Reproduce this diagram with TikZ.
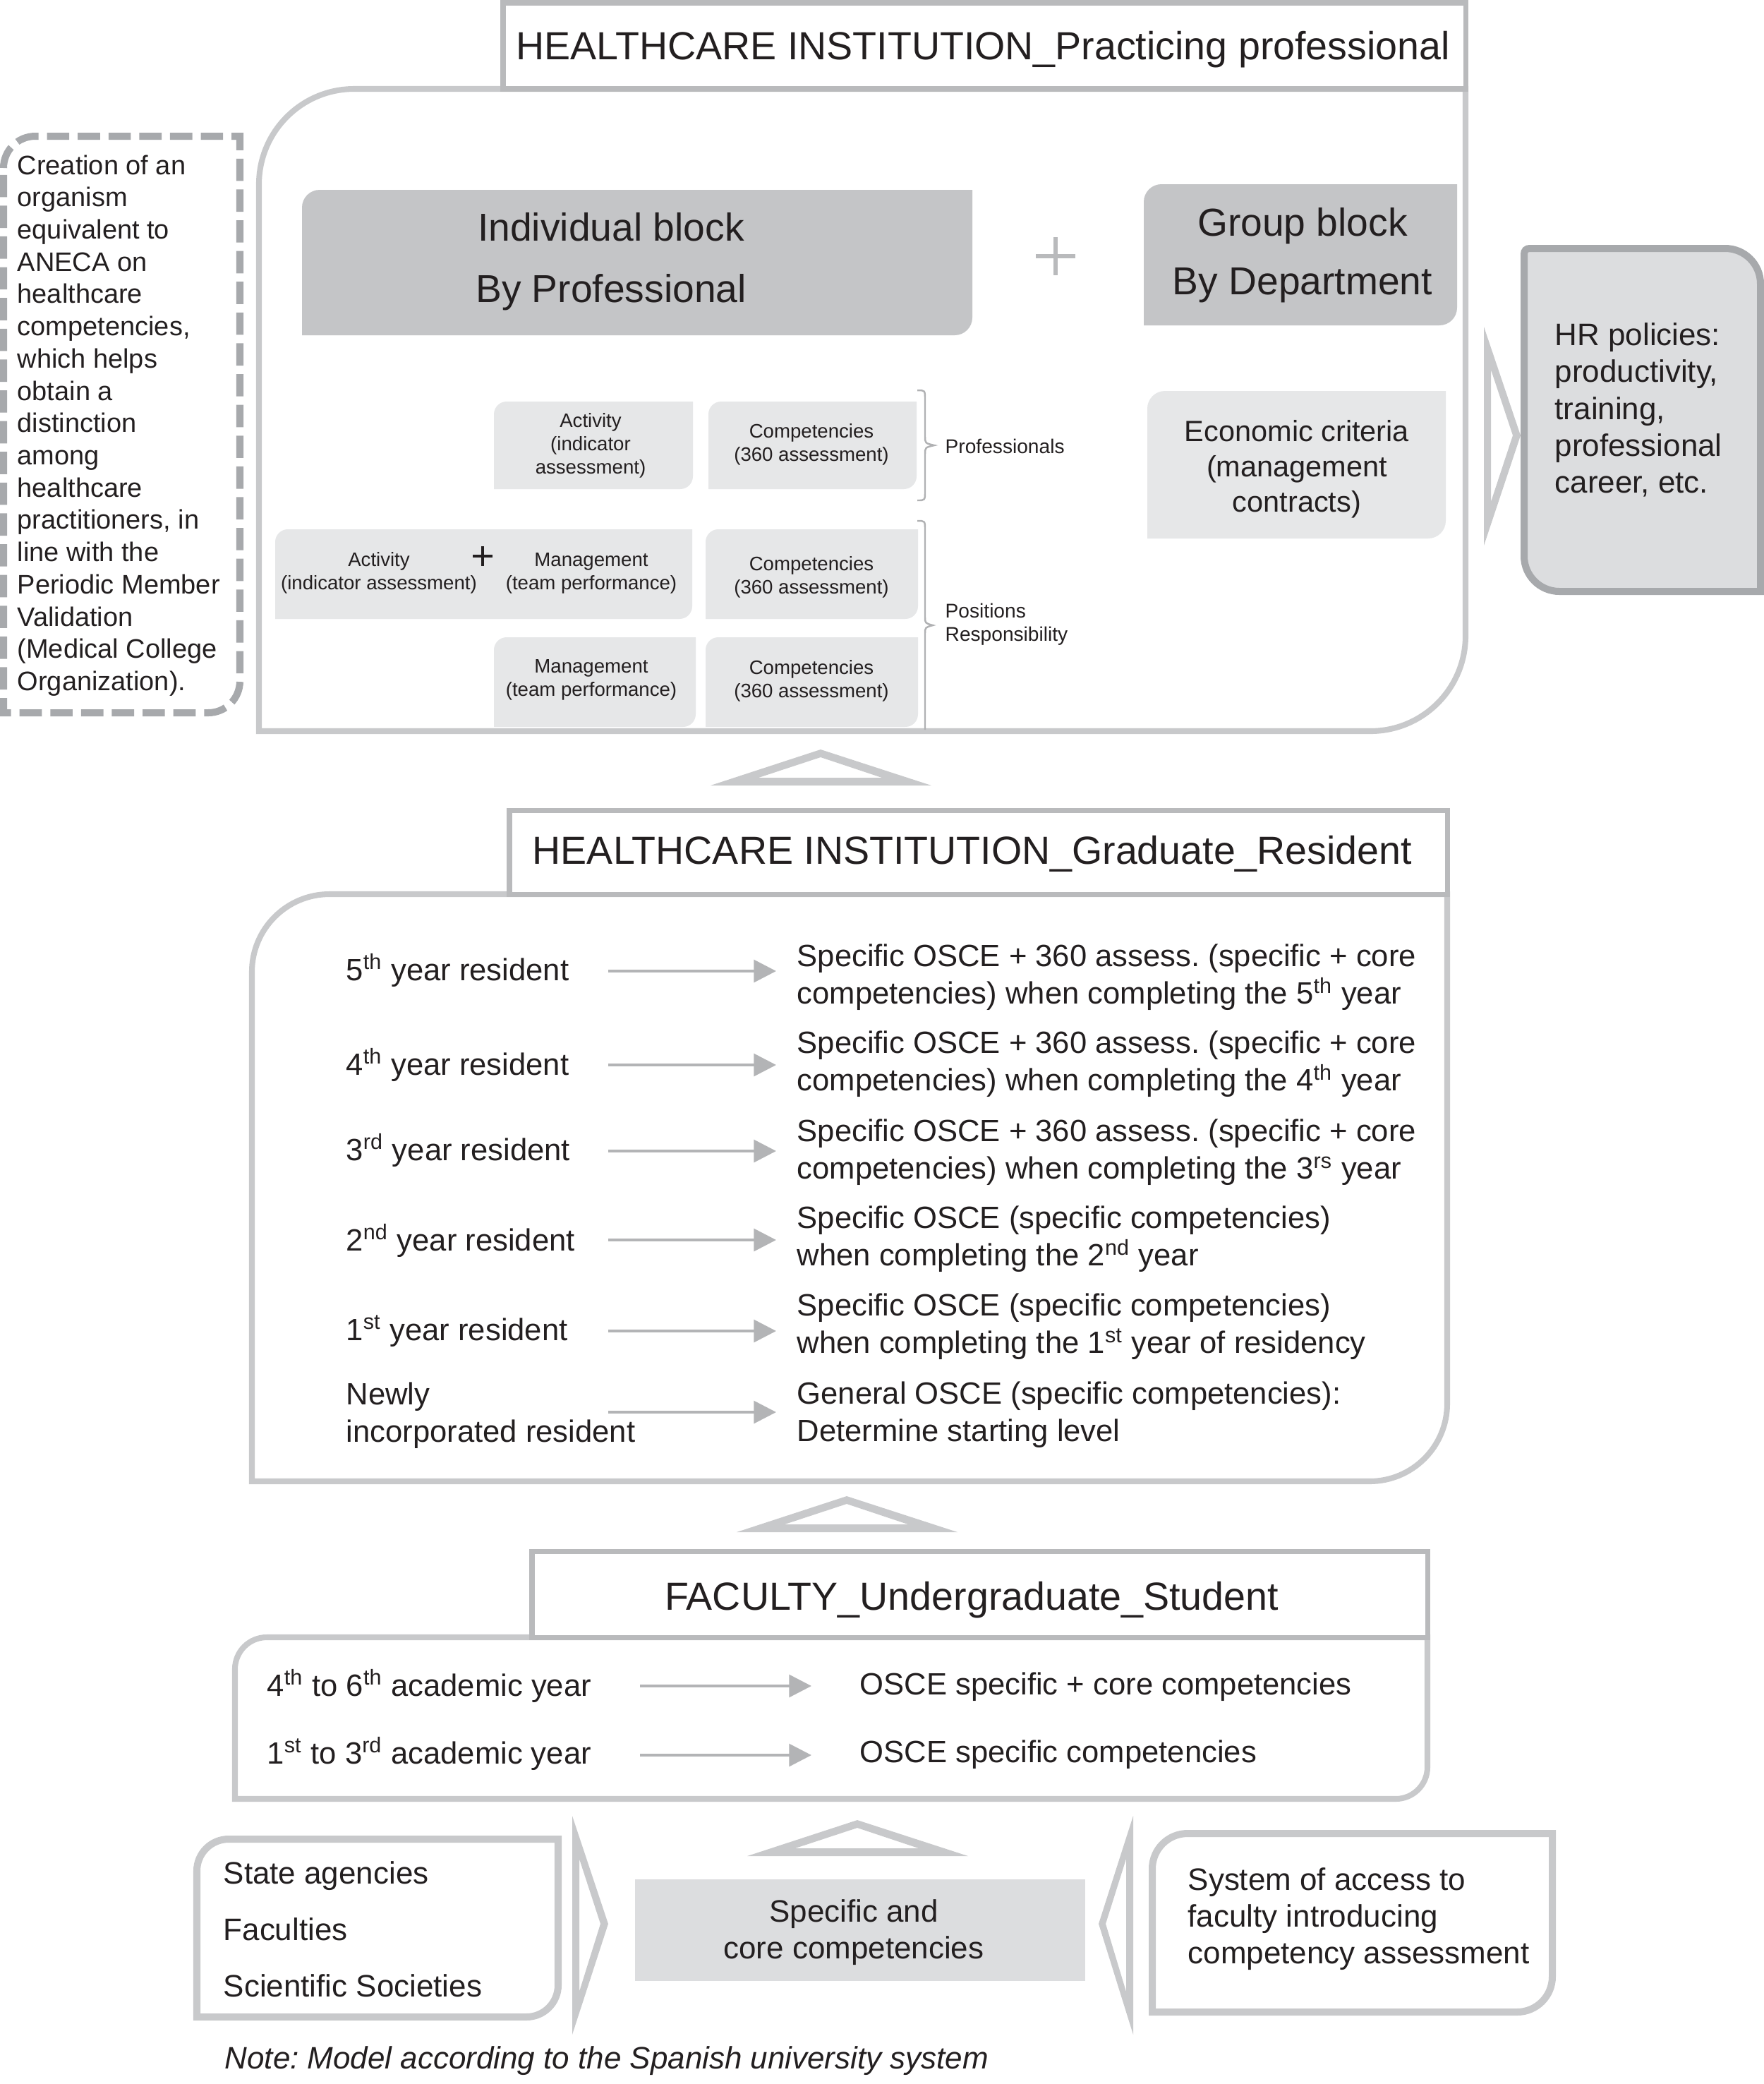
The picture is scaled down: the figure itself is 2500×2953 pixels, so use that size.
\documentclass[tikz,border=0pt]{standalone}
\usepackage{fontspec}
\setmainfont{Liberation Sans}
\usetikzlibrary{arrows.meta}
\definecolor{txtc}{HTML}{231F20}
\definecolor{panelc}{HTML}{C8C9CB}
\definecolor{titlec}{HTML}{B9BABC}
\definecolor{blockc}{HTML}{C4C5C7}
\definecolor{lightc}{HTML}{E6E7E8}
\definecolor{midc}{HTML}{DCDDDF}
\definecolor{darkborder}{HTML}{A7A9AC}
\definecolor{arrowc}{HTML}{B3B4B6}
\definecolor{bracec}{HTML}{B0B1B3}
\frenchspacing
% box with rounded top-left and bottom-right corners
\newcommand{\tlbr}[6][]{%
  \path[#1] (#2,{#3+#6}) .. controls (#2,{#3+0.448*#6}) and ({#2+0.448*#6},#3) .. ({#2+#6},#3)
    -- (#4,#3) -- (#4,{#5-#6}) .. controls (#4,{#5-0.448*#6}) and ({#4-0.448*#6},#5) .. ({#4-#6},#5)
    -- (#2,#5) -- cycle;}
% box with rounded top-right and bottom-left corners
\newcommand{\trbl}[6][]{%
  \path[#1] (#2,{#3+8}) .. controls (#2,{#3+3}) and ({#2+3},#3) .. ({#2+8},#3)
    -- ({#4-#6},#3) .. controls ({#4-0.448*#6},#3) and (#4,{#3+0.448*#6}) .. (#4,{#3+#6})
    -- (#4,#5) -- ({#2+#6},#5) .. controls ({#2+0.448*#6},#5) and (#2,{#5-0.448*#6}) .. (#2,{#5-#6})
    -- cycle;}
\begin{document}
\begin{tikzpicture}[x=0.01cm,y=-0.01cm,
  panel/.style={draw=panelc,line width=2.3pt,fill=white},
  titlebox/.style={draw=titlec,line width=2pt,fill=white},
  block/.style={fill=blockc},
  lbox/.style={fill=lightc},
  hrbox/.style={draw=darkborder,line width=2.85pt,fill=midc},
  dashbox/.style={draw=darkborder,line width=2.85pt,dash pattern=on 9pt off 3.4pt},
  shapec/.style={fill=panelc,even odd rule},
  arr/.style={draw=arrowc,line width=1.14pt,-{Triangle[length=9pt,width=9pt]}},
  bracel/.style={draw=bracec,line width=0.7pt},
  txt/.style={inner sep=0pt,text=txtc,align=left,anchor=west,font=\fontsize{12.4pt}{15pt}\selectfont},
  ctxt/.style={inner sep=0pt,text=txtc,align=center,anchor=center},
  small/.style={ctxt,font=\fontsize{7.85pt}{9.4pt}\selectfont},
  head/.style={ctxt,font=\fontsize{15.8pt}{19pt}\selectfont},
]
\useasboundingbox (0,0) rectangle (2500,2953);

%================ TOP SECTION ================
\tlbr[panel]{367}{126}{2077}{1036}{135}
\draw[titlebox] (713,4) rectangle (2077,126);
\node[head] (t1) at (1393,70) {HEALTHCARE INSTITUTION\_Practicing professional};

% individual / group blocks
\tlbr[block]{428}{269}{1378}{475}{25}
\node[ctxt,font=\fontsize{15.7pt}{24.7pt}\selectfont] (indiv) at (866,371) {Individual block\\By Professional};
\draw[draw=titlec,line width=1.7pt] (1468,363) -- (1524,363) (1496,336) -- (1496,390);
\coordinate (bigplus) at (1496,363);
\tlbr[block]{1621}{261}{2065}{461}{25}
\node[ctxt,font=\fontsize{15.7pt}{23.6pt}\selectfont] (group) at (1846,362) {Group block\\By Department};

% small boxes
\tlbr[lbox]{700}{569}{982}{693}{18}
\node[small] (act1) at (837,631) {Activity\\(indicator\\assessment)};
\tlbr[lbox]{1004}{569}{1299}{693}{18}
\node[small] (comp1) at (1150,630) {Competencies\\(360 assessment)};
\tlbr[lbox]{390}{750}{981}{877}{18}
\node[small] (act2) at (537,812) {Activity\\(indicator assessment)};
\draw[draw=txtc,line width=1.1pt] (670,788) -- (698,788) (684,774) -- (684,802);
\node[small] (man2) at (838,812) {Management\\(team performance)};
\tlbr[lbox]{1000}{750}{1301}{877}{18}
\node[small] (comp2) at (1150,818) {Competencies\\(360 assessment)};
\tlbr[lbox]{700}{903}{986}{1030}{18}
\node[small] (man3) at (838,963) {Management\\(team performance)};
\tlbr[lbox]{1000}{903}{1301}{1030}{18}
\node[small] (comp3) at (1150,965) {Competencies\\(360 assessment)};

% braces
\draw[bracel] (1300,553) .. controls (1311,553) .. (1311,566) -- (1311,618) .. controls (1311,628) .. (1324,631)
   .. controls (1311,634) .. (1311,644) -- (1311,696) .. controls (1311,709) .. (1300,709);
\draw[bracel] (1300,738) .. controls (1311,738) .. (1311,751) -- (1311,874) .. controls (1311,883) .. (1322,886)
   .. controls (1311,889) .. (1311,898) -- (1311,1034);
\node[txt,font=\fontsize{8pt}{9.4pt}\selectfont] (prof) at (1339,632) {Professionals};
\node[txt,font=\fontsize{8pt}{9.4pt}\selectfont] (posr) at (1339,885) {Positions\\Responsibility};

% economic criteria
\tlbr[lbox]{1626}{554}{2049}{763}{25}
\node[ctxt,font=\fontsize{11.8pt}{14.2pt}\selectfont] (econ) at (1838,665) {Economic criteria\\(management\\contracts)};

% chevron to HR
\path[shapec] (2103,463) -- (2155,617) -- (2103,773) -- cycle
              (2113,524) -- (2144,617) -- (2113,711) -- cycle;
\coordinate (chevtop) at (2155,617);
\trbl[hrbox]{2160}{352}{2495}{838}{50}
\node[txt,font=\fontsize{12.5pt}{14.9pt}\selectfont] (hr) at (2203,581) {HR policies:\\productivity,\\training,\\professional\\career, etc.};

% dashed side box
\tlbr[dashbox]{5}{193}{340}{1010}{45}
\node[txt,font=\fontsize{10.8pt}{13pt}\selectfont] (aneca) at (24,603) {Creation of an\\organism\\equivalent to\\ANECA on\\healthcare\\competencies,\\which helps\\obtain a\\distinction\\among\\healthcare\\practitioners, in\\line with the\\Periodic Member\\Validation\\(Medical College\\Organization).};

% triangle 1
\path[shapec] (1007,1113) -- (1163,1062) -- (1320,1113) -- cycle
              (1075,1102) -- (1163,1073) -- (1250,1102) -- cycle;

%================ MIDDLE SECTION ================
\tlbr[panel]{357}{1267}{2051}{2099}{110}
\draw[titlebox] (722,1148) rectangle (2051,1267);
\node[head] (t2) at (1378,1210) {HEALTHCARE INSTITUTION\_Graduate\_Resident};

\node[txt] (r5) at (490,1375) {5\textsuperscript{th} year resident};
\node[txt] (r4) at (490,1509) {4\textsuperscript{th} year resident};
\node[txt] (r3) at (490,1630) {3\textsuperscript{rd} year resident};
\node[txt] (r2) at (490,1758) {2\textsuperscript{nd} year resident};
\node[txt] (r1) at (490,1886) {1\textsuperscript{st} year resident};
\node[txt] (r0) at (490,2006) {Newly\\incorporated resident};

\node[txt] (e5) at (1129,1385) {Specific OSCE + 360 assess. (specific + core\\competencies) when completing the 5\textsuperscript{th} year};
\node[txt] (e4) at (1129,1508) {Specific OSCE + 360 assess. (specific + core\\competencies) when completing the 4\textsuperscript{th} year};
\node[txt] (e3) at (1129,1633) {Specific OSCE + 360 assess. (specific + core\\competencies) when completing the 3\textsuperscript{rs} year};
\node[txt] (e2) at (1129,1756) {Specific OSCE (specific competencies)\\when completing the 2\textsuperscript{nd} year};
\node[txt] (e1) at (1129,1880) {Specific OSCE (specific competencies)\\when completing the 1\textsuperscript{st} year of residency};
\node[txt] (e0) at (1129,2005) {General OSCE (specific competencies):\\Determine starting level};

\foreach \n/\y in {5/1376,4/1509,3/1631,2/1757,1/1886,0/2001}{
  \coordinate (s\n) at (862,\y);
  \coordinate (f\n) at (1100,\y);
  \draw[arr] (s\n) -- (f\n);
}

% triangle 2
\path[shapec] (1044,2171) -- (1200,2120) -- (1357,2171) -- cycle
              (1112,2160) -- (1200,2131) -- (1287,2160) -- cycle;

%================ BOTTOM SECTION ================
\tlbr[panel]{333}{2320}{2023}{2549}{45}
\draw[titlebox] (754,2198) rectangle (2023,2320);
\node[head] (t3) at (1377,2267) {FACULTY\_Undergraduate\_Student};

\node[txt] (u2) at (378,2389) {4\textsuperscript{th} to 6\textsuperscript{th} academic year};
\node[txt] (u1) at (378,2485) {1\textsuperscript{st} to 3\textsuperscript{rd} academic year};
\node[txt] (o2) at (1218,2390) {OSCE specific + core competencies};
\node[txt] (o1) at (1218,2486) {OSCE specific competencies};
\coordinate (us2) at (907,2389);
\coordinate (uf2) at (1150,2389);
\coordinate (us1) at (907,2487);
\coordinate (uf1) at (1150,2487);
\draw[arr] (us2) -- (uf2);
\draw[arr] (us1) -- (uf1);

% triangle 3
\path[shapec] (1059,2630) -- (1215,2579) -- (1372,2630) -- cycle
              (1127,2619) -- (1215,2590) -- (1302,2619) -- cycle;

% bottom boxes
\tlbr[panel,line width=2.85pt]{279}{2606}{791}{2858}{45}
\node[txt,font=\fontsize{12.5pt}{22.8pt}\selectfont] (agencies) at (316,2734) {State agencies\\Faculties\\Scientific Societies};
\path[shapec] (811,2573) -- (862,2726) -- (811,2883) -- cycle
              (821,2634) -- (851,2726) -- (821,2822) -- cycle;
\fill[midc] (900,2663) rectangle (1538,2807);
\node[ctxt,font=\fontsize{12.5pt}{15pt}\selectfont] (core) at (1210,2738) {Specific and\\core competencies};
\path[shapec] (1606,2573) -- (1557,2726) -- (1606,2883) -- cycle
              (1596,2634) -- (1567,2726) -- (1596,2822) -- cycle;
\tlbr[panel,line width=2.85pt]{1633}{2598}{2200}{2851}{50}
\node[txt,font=\fontsize{12.5pt}{14.8pt}\selectfont] (access) at (1683,2719) {System of access to\\faculty introducing\\competency assessment};

\node[txt,font=\fontsize{12.5pt}{15pt}\itshape] (note) at (318,2920) {Note: Model according to the Spanish university system};
\end{tikzpicture}
\end{document}
